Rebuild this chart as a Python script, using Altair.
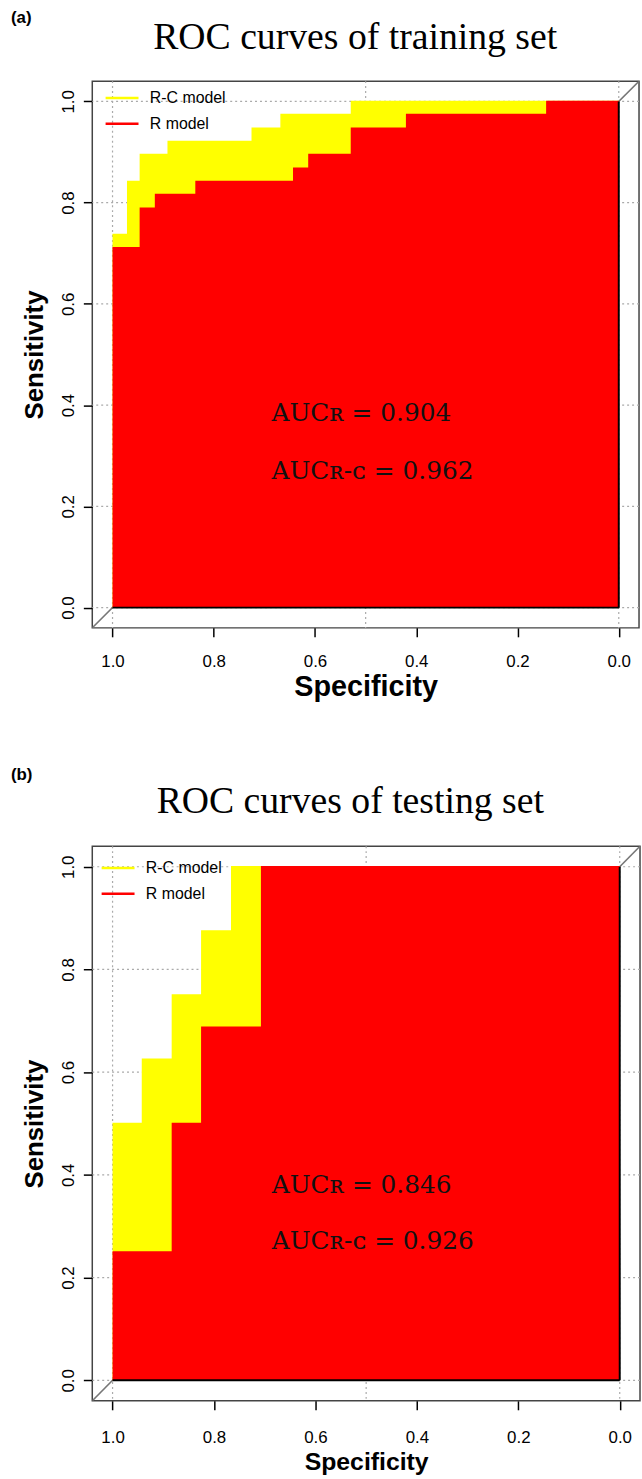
import altair as alt
import pandas as pd

# ---------------- data ----------------
# (a) training set : ROC step corners (specificity, sensitivity)
train_rc_spec = [0.0, 0.528, 0.667, 0.724, 0.890, 0.945, 0.970, 1.0]
train_rc_sens = [1.0, 0.974, 0.947, 0.921, 0.895, 0.842, 0.737, 0.737]
train_r_spec = [0.0, 0.142, 0.419, 0.528, 0.612, 0.642, 0.835, 0.915, 0.945, 1.0]
train_r_sens = [1.0, 0.974, 0.947, 0.895, 0.868, 0.842, 0.816, 0.789, 0.711, 0.711]

# (b) testing set
test_rc_spec = [0.0, 0.765, 0.824, 0.882, 0.941, 1.0]
test_rc_sens = [1.0, 0.875, 0.750, 0.625, 0.500, 0.500]
test_r_spec = [0.0, 0.706, 0.824, 0.882, 1.0]
test_r_sens = [1.0, 0.6875, 0.500, 0.250, 0.250]

train_auc_text = ["AUCʀ = 0.904", "AUCʀ-ᴄ = 0.962"]
test_auc_text = ["AUCʀ = 0.846", "AUCʀ-ᴄ = 0.926"]
auc_text_spec = [0.686, 0.686]
train_auc_sens = [0.385, 0.27]
test_auc_sens = [0.38, 0.272]

tick_values = [0.0, 0.2, 0.4, 0.6, 0.8, 1.0]
grid_spec = [0.0, 0.5, 1.0]
grid_sens = [0.0, 0.2, 0.4, 0.6, 0.8, 1.0]
diag_spec = [1.04, -0.04]
diag_sens = [-0.04, 1.04]

models = ["R-C model", "R model"]
colors = ["#ffff00", "#ff0000"]

titles = ["ROC curves of training set", "ROC curves of testing set"]
tags = ["(a)", "(b)"]

SANS = "Liberation Sans"


def panel(rc_spec, rc_sens, r_spec, r_sens, auc_txt, auc_sens, title, tag,
          width, height, legend_x, legend_y, title_x, title_y, tag_y,
          label_pad, title_pad, xtitle_size):
    rc = pd.DataFrame({"spec": rc_spec, "sens": rc_sens, "model": models[0]})
    rr = pd.DataFrame({"spec": r_spec, "sens": r_sens, "model": models[1]})
    xs = alt.Scale(domain=[-0.04, 1.04], reverse=True, nice=False, zero=False)
    ys = alt.Scale(domain=[-0.04, 1.04], nice=False, zero=False)
    xaxis = alt.Axis(values=tick_values, format=".1f", title="Specificity",
                     grid=False, domain=False, tickColor="black", tickSize=9,
                     tickWidth=1.5, labelFont=SANS, labelFontSize=17,
                     labelColor="black", labelPadding=label_pad, titleFont=SANS,
                     titleFontSize=xtitle_size, titleFontWeight="bold",
                     titleColor="black", titlePadding=title_pad)
    yaxis = alt.Axis(values=tick_values, format=".1f", title="Sensitivity",
                     grid=False, domain=False, tickColor="black", tickSize=9,
                     tickWidth=1.5, labelFont=SANS, labelFontSize=17,
                     labelColor="black", labelAngle=-90, labelPadding=6,
                     labelAlign="center", labelBaseline="bottom",
                     titleFont=SANS, titleFontSize=26, titleFontWeight="bold",
                     titleColor="black", titlePadding=12)
    color = alt.Color("model:N", scale=alt.Scale(domain=models, range=colors),
                      legend=alt.Legend(title=None, orient="none",
                                        legendX=legend_x, legendY=legend_y,
                                        symbolType="stroke",
                                        symbolStrokeWidth=2.5,
                                        symbolSize=1100, rowPadding=-10,
                                        labelFont=SANS, labelFontSize=16,
                                        labelColor="black", labelOffset=10,
                                        padding=0))

    gx = alt.Chart(pd.DataFrame({"spec": grid_spec})).mark_rule(
        color="#aaaaaa", strokeDash=[2, 3], strokeWidth=1.2
    ).encode(x=alt.X("spec:Q", scale=xs, axis=xaxis))
    gy = alt.Chart(pd.DataFrame({"sens": grid_sens})).mark_rule(
        color="#aaaaaa", strokeDash=[2, 3], strokeWidth=1.2
    ).encode(y=alt.Y("sens:Q", scale=ys, axis=yaxis))
    diag = alt.Chart(pd.DataFrame({"spec": diag_spec, "sens": diag_sens})).mark_line(
        color="#777777", strokeWidth=1.5, clip=True
    ).encode(x=alt.X("spec:Q", scale=xs), y=alt.Y("sens:Q", scale=ys))

    def area(df, fill):
        return alt.Chart(df).mark_area(interpolate="step-before", color=fill).encode(
            x=alt.X("spec:Q", scale=xs), y=alt.Y("sens:Q", scale=ys),
            y2=alt.datum(0))

    def line(df):
        return alt.Chart(df).mark_line(interpolate="step-before", strokeWidth=1.5).encode(
            x=alt.X("spec:Q", scale=xs), y=alt.Y("sens:Q", scale=ys), color=color)

    edge_v = alt.Chart(pd.DataFrame({"spec": [0.0], "sens": [0.0], "sens2": [1.0]})).mark_rule(
        color="black", strokeWidth=2
    ).encode(x="spec:Q", y="sens:Q", y2="sens2:Q")
    edge_h = alt.Chart(pd.DataFrame({"spec": [1.0], "spec2": [0.0], "sens": [0.0]})).mark_rule(
        color="black", strokeWidth=2
    ).encode(x="spec:Q", x2="spec2:Q", y="sens:Q")

    auc = alt.Chart(pd.DataFrame({"spec": auc_text_spec, "sens": auc_sens, "t": auc_txt})).mark_text(
        font="DejaVu Serif", fontSize=25, align="left", baseline="middle", color="#111111"
    ).encode(x="spec:Q", y="sens:Q", text="t:N")

    tag_m = alt.Chart(pd.DataFrame({"t": [tag]})).mark_text(
        font=SANS, fontSize=17, fontWeight="bold", align="left", baseline="top",
        color="black"
    ).encode(x=alt.value(-82), y=alt.value(tag_y), text="t:N")

    title_m = alt.Chart(pd.DataFrame({"t": [title]})).mark_text(
        font="Liberation Serif", fontSize=38, align="center", baseline="alphabetic",
        color="black"
    ).encode(x=alt.value(title_x), y=alt.value(title_y), text="t:N")

    return alt.layer(gx, gy, diag, area(rc, colors[0]), line(rc),
                     area(rr, colors[1]), line(rr), edge_v, edge_h,
                     auc, tag_m, title_m).properties(width=width, height=height)


top = panel(train_rc_spec, train_rc_sens, train_r_spec, train_r_sens,
            train_auc_text, train_auc_sens, titles[0], tags[0], 551, 551,
            12, -1, 265, -32, -72, 17, 3, 29)
bottom = panel(test_rc_spec, test_rc_sens, test_r_spec, test_r_sens,
               test_auc_text, test_auc_sens, titles[1], tags[1], 552, 559,
               8, 4, 260, -33, -80, 20, 4, 25)

chart = alt.vconcat(top, bottom, spacing=63).resolve_scale(
    color="independent").resolve_legend(color="independent").properties(
    padding={"left": 10, "top": 2, "right": 0, "bottom": 0}
).configure_view(stroke="#444444", strokeWidth=1.5)

chart.save("out.html", embed_options={"renderer": "svg", "actions": False})
